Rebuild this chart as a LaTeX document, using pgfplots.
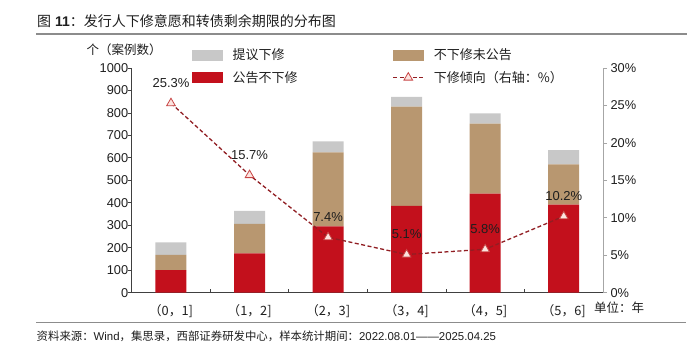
\documentclass[border=0pt]{standalone}
\usepackage{fontspec}
\setmainfont{Liberation Sans}
\newfontfamily\cjk{Noto Sans CJK SC}
\usepackage{pgfplots}
\pgfplotsset{compat=1.18}
\pgfplotsset{linelegend/.style={legend image code/.code={\draw[mark repeat=2,mark phase=2,##1] plot coordinates {(0pt,0pt) (15pt,0pt) (30pt,0pt)};}}}
\definecolor{cgray}{RGB}{200,200,200}
\definecolor{ctan}{RGB}{184,151,112}
\definecolor{cred}{RGB}{195,16,28}
\definecolor{cline}{RGB}{145,30,35}
\definecolor{cmark}{RGB}{200,70,70}
\definecolor{cmarkfill}{RGB}{252,228,224}
\definecolor{caxis}{RGB}{64,64,64}
\definecolor{craxis}{RGB}{166,166,166}
\definecolor{crule}{RGB}{140,140,140}
\definecolor{ctext}{RGB}{30,30,30}
\begin{document}
\begin{tikzpicture}
\path[use as bounding box] (0pt,0pt) rectangle (700pt,-361pt);
\node[anchor=west, text=ctext, inner sep=0pt] at (37pt,-21.5pt) {\fontsize{14}{16}\selectfont{\cjk 图} {\bfseries 11}{\cjk ：发行人下修意愿和转债剩余期限的分布图}};
\draw[crule, line width=1.5pt] (36pt,-34pt) -- (687pt,-34pt);
\draw[crule, line width=1.5pt] (36pt,-322.7pt) -- (686pt,-322.7pt);
\node[anchor=west, inner sep=0pt, text=ctext] at (36.5pt,-336pt) {\fontsize{11.4}{13}\selectfont{\cjk 资料来源：}Wind{\cjk ，集思录，西部证券研发中心，样本统计期间：}2022.08.01——2025.04.25};
\node[text=ctext, inner sep=0pt] at (124pt,-50pt) {\cjk\fontsize{12.5}{14}\selectfont 个（案例数）};
\node[anchor=west, text=ctext, inner sep=0pt] at (594pt,-308pt) {\cjk\fontsize{12.5}{14}\selectfont 单位：年};

\begin{axis}[
  at={(131.7pt,-292.7pt)}, anchor=south west,
  width=471.3pt, height=224.7pt, scale only axis,
  xmin=-0.5, xmax=5.5, ymin=0, ymax=1000,
  ybar stacked, bar width=31pt,
  axis y line*=left, axis x line*=bottom,
  axis line style={caxis, line width=0.9pt, -},
  xtick={-0.5,0.5,...,5.5},
  x tick label as interval,
  xticklabels={{（0，1]},{（1，2]},{（2，3]},{（3，4]},{（4，5]},{（5，6]}},
  ytick={0,100,...,1000},
  tick align=inside, major tick length=4pt,
  ytick style={xshift=-4pt},
  tick style={caxis, line width=0.8pt},
  /pgf/number format/assume math mode=true,
  /pgf/number format/1000 sep={},
  tick label style={font=\fontsize{12.8}{14}\selectfont, text=ctext},
  xticklabel style={font=\cjk\fontsize{12.8}{14}\selectfont, yshift=-8pt},
  clip=false,
]
\addplot[fill=cred, draw=none] coordinates {(0,100) (1,175) (2,295) (3,386) (4,441) (5,392)};
\addplot[fill=ctan, draw=none] coordinates {(0,68) (1,131) (2,330) (3,442) (4,311) (5,179)};
\addplot[fill=cgray, draw=none] coordinates {(0,56) (1,58) (2,49) (3,44) (4,46) (5,63)};
\end{axis}

\begin{axis}[
  at={(131.7pt,-292.7pt)}, anchor=south west,
  width=471.3pt, height=224.7pt, scale only axis,
  xmin=-0.5, xmax=5.5, ymin=0, ymax=30,
  axis y line*=right, axis x line=none,
  axis line style={craxis, line width=0.9pt, -},
  ytick={0,5,...,30},
  yticklabel={\pgfmathprintnumber{\tick}\%},
  tick align=outside, major tick length=4pt,
  tick style={craxis, line width=0.8pt},
  /pgf/number format/assume math mode=true,
  tick label style={font=\fontsize{12.8}{14}\selectfont, text=ctext},
  legend columns=2,
  legend cell align=left,
  legend style={at={(0.128,1.095)}, anchor=north west, draw=none, fill=none, inner sep=0pt,
    row sep=6pt, font=\cjk\fontsize{13}{15}\selectfont, text=ctext,
    /tikz/every odd column/.style={column sep=8pt},
    /tikz/column 2/.style={column sep=93pt}},
  clip=false,
]
\addlegendimage{legend image code/.code={\fill[cgray] (0pt,-5pt) rectangle (30pt,5pt);}}
\addlegendentry{提议下修}
\addlegendimage{legend image code/.code={\fill[ctan] (0pt,-5pt) rectangle (30pt,5pt);}}
\addlegendentry{不下修未公告}
\addlegendimage{legend image code/.code={\fill[cred] (0pt,-5pt) rectangle (30pt,5pt);}}
\addlegendentry{公告不下修}
\addplot[cline, line width=1.3pt, dash pattern=on 4pt off 2.5pt,
  mark=triangle*, mark size=5pt,
  mark options={solid, fill=cmarkfill, draw=cmark, line width=0.8pt},
  point meta=y,
  nodes near coords={\pgfmathprintnumber[fixed,precision=1,fixed zerofill]{\pgfplotspointmeta}\%},
  every node near coord/.append style={font=\fontsize{13}{15}\selectfont, text=ctext, anchor=center, yshift=20pt},
  linelegend
] coordinates {(0,25.3) (1,15.7) (2,7.4) (3,5.1) (4,5.8) (5,10.2)};
\addlegendentry{下修倾向（右轴：\%）}
\end{axis}
\end{tikzpicture}
\end{document}
